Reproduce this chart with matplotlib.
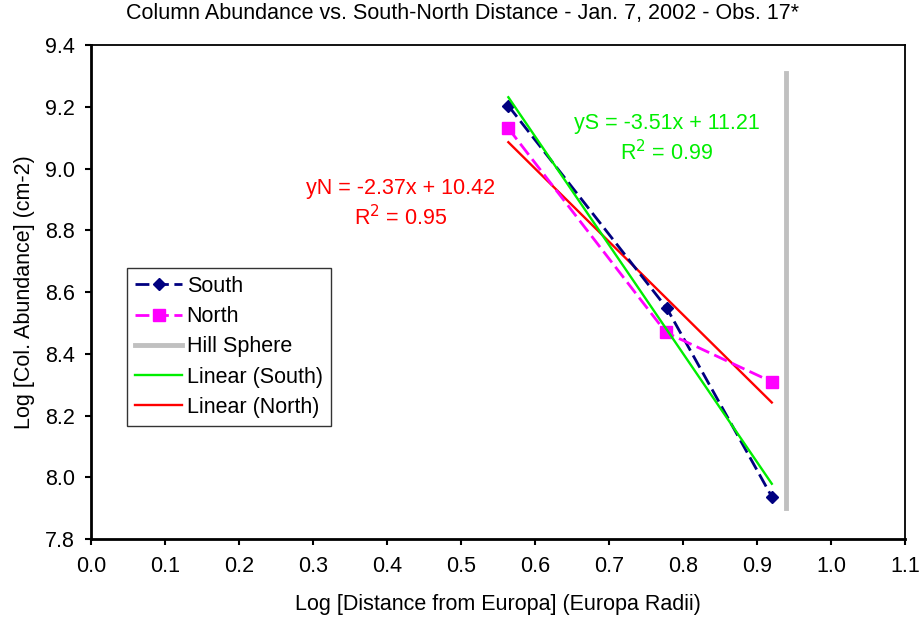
import numpy as np
import matplotlib.pyplot as plt

plt.rcParams['font.family'] = ['Liberation Sans', 'DejaVu Sans']

# Data
south_x = [0.564, 0.778, 0.920]
south_y = [9.203, 8.548, 7.937]
north_x = [0.564, 0.777, 0.920]
north_y = [9.130, 8.469, 8.309]
hill_x = [0.939, 0.939]
hill_y = [7.90, 9.31]

eq_south = ['yS = -3.51x + 11.21', 'R$^2$ = 0.99']
eq_north = ['yN = -2.37x + 10.42', 'R$^2$ = 0.95']

FS = 15.5

fig = plt.figure(figsize=(9.24, 6.18), dpi=100)
ax = fig.add_axes([91 / 924, 1 - 539 / 618, 814 / 924, 494 / 618])

# Series
ax.plot(south_x, south_y, color='#000080', linestyle=(0, (5, 2)), linewidth=2,
        marker='D', markersize=6.5, label='South', zorder=4)
ax.plot(north_x, north_y, color='#ff00ff', linestyle=(0, (5, 2)), linewidth=2,
        marker='s', markersize=8, label='North', zorder=4)
ax.plot(hill_x, hill_y, color='#c0c0c0', linewidth=3.5, label='Hill Sphere', zorder=2)

# Linear trendlines
ps = np.polyfit(south_x, south_y, 1)
pn = np.polyfit(north_x, north_y, 1)
xs = np.array([min(south_x), max(south_x)])
xn = np.array([min(north_x), max(north_x)])
ax.plot(xs, np.polyval(ps, xs), color='#00ee00', linewidth=1.7, label='Linear (South)', zorder=5)
ax.plot(xn, np.polyval(pn, xn), color='#ff0000', linewidth=1.7, label='Linear (North)', zorder=3)

# Trendline equations
ax.text(0.778, 9.127, eq_south[0], color='#00ee00', fontsize=FS, ha='center', va='baseline')
ax.text(0.778, 9.027, eq_south[1], color='#00ee00', fontsize=FS, ha='center', va='baseline')
ax.text(0.418, 8.917, eq_north[0], color='#ff0000', fontsize=FS, ha='center', va='baseline')
ax.text(0.418, 8.817, eq_north[1], color='#ff0000', fontsize=FS, ha='center', va='baseline')

ax.set_xlim(0, 1.1)
ax.set_ylim(7.8, 9.4)
ax.set_xticks(np.arange(0, 1.101, 0.1))
ax.set_yticks(np.arange(7.8, 9.401, 0.2))
ax.xaxis.set_major_formatter(plt.FormatStrFormatter('%.1f'))
ax.yaxis.set_major_formatter(plt.FormatStrFormatter('%.1f'))
ax.tick_params(direction='out', length=4.5, width=1.5, labelsize=FS)
ax.tick_params(axis='x', pad=8)
ax.tick_params(axis='y', pad=7)

for side in ['left', 'bottom']:
    ax.spines[side].set_linewidth(2)
for side in ['top', 'right']:
    ax.spines[side].set_linewidth(1.3)

fig.text(0.5, 1 - 13 / 618, 'Column Abundance vs. South-North Distance - Jan. 7, 2002 - Obs. 17*',
         fontsize=FS, ha='center', va='center')
ax.set_xlabel('Log [Distance from Europa] (Europa Radii)', fontsize=FS)
ax.xaxis.set_label_coords(0.5, (539 - 594) / 494)
ax.set_ylabel('Log [Col. Abundance] (cm-2)', fontsize=FS)
ax.yaxis.set_label_coords((35 - 91) / 814, 0.5)

leg = ax.legend(loc='upper left', bbox_to_anchor=(0.044, 0.549), fontsize=FS,
                frameon=True, fancybox=False, edgecolor='black', handlelength=2.2,
                handletextpad=0.2, borderpad=0.38, labelspacing=0.43, borderaxespad=0)
leg.get_frame().set_linewidth(1)

fig.savefig('out.png', dpi=100)
